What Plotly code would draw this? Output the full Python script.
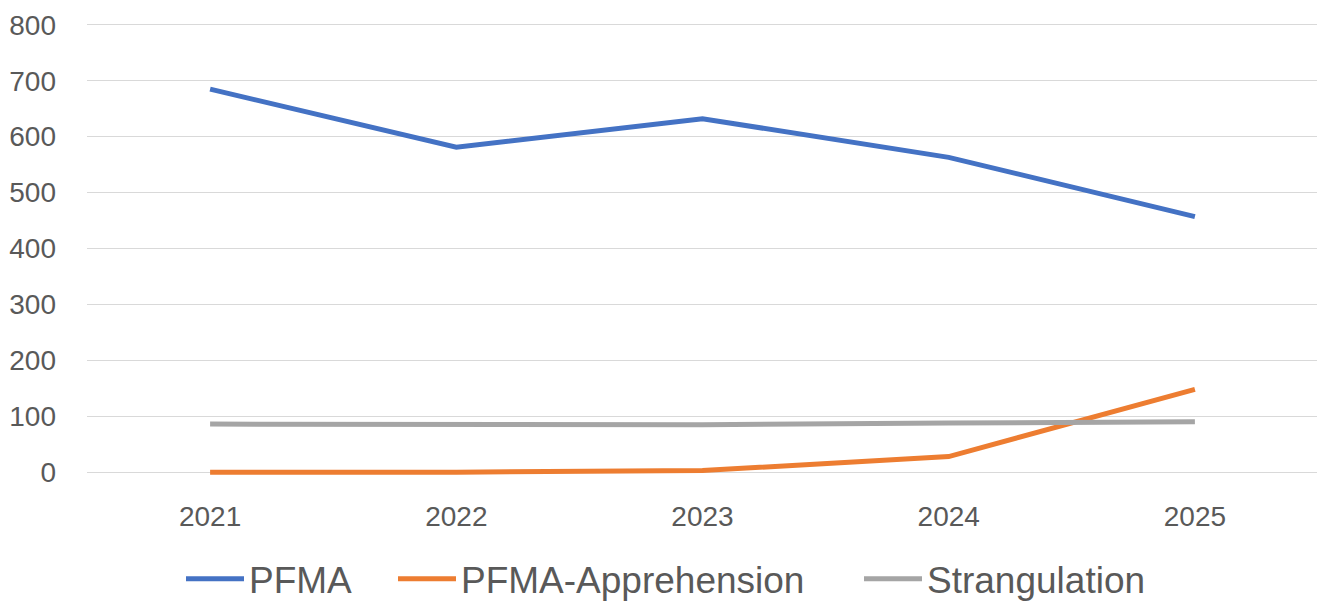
import plotly.graph_objects as go

years = ["2021", "2022", "2023", "2024", "2025"]
pfma = [685, 581, 632, 563, 457]
pfma_apprehension = [0, 0, 3, 28, 148]
strangulation = [86, 86, 85, 88, 90]
y_ticks = [0, 100, 200, 300, 400, 500, 600, 700, 800]

# page body has an 8px margin, so the figure is sized and placed accordingly
OFF = 8
W, H = 1325 - OFF, 603 - OFF
L = 87 - OFF
T = 22.2 - OFF
plot_w = 1231
plot_h = 452.6
R = W - L - plot_w
B = H - T - plot_h

fig = go.Figure()
series = [
    ("PFMA", pfma, "#4472C4", "legend", 188),
    ("PFMA-Apprehension", pfma_apprehension, "#ED7D31", "legend2", 400),
    ("Strangulation", strangulation, "#A5A5A5", "legend3", 866),
]
legends = {}
for name, vals, color, lg, xpx in series:
    fig.add_trace(go.Scatter(
        x=years, y=vals, name=name, mode="lines", legend=lg,
        line=dict(color=color, width=5, shape="linear"),
    ))
    legends[lg] = dict(
        orientation="h", x=(xpx - OFF - 7 - L) / plot_w, xanchor="left",
        y=(H - B - (579 - OFF)) / plot_h, yanchor="middle",
        font=dict(size=37, color="#595959"),
        itemwidth=58, bgcolor="rgba(0,0,0,0)",
    )

fig.update_layout(
    width=W, height=H,
    margin=dict(l=L, r=R, t=T, b=B, autoexpand=False),
    paper_bgcolor="white", plot_bgcolor="white",
    font=dict(family="Liberation Sans, Arial, sans-serif", color="#595959", size=28),
    showlegend=True,
    **legends,
)
fig.update_xaxes(
    type="category", range=[-0.5, 4.5], showgrid=False, zeroline=False,
    showline=False, ticks="", ticklabelstandoff=22, automargin=False,
    tickfont=dict(size=28, color="#595959"),
)
fig.update_yaxes(
    range=[-5, 805], tickvals=y_ticks, showgrid=True, gridcolor="#D9D9D9",
    gridwidth=1.3, zeroline=False, showline=False, ticks="", automargin=False,
    ticklabelstandoff=30, tickfont=dict(size=28, color="#595959"),
)

fig.write_html("out.html")
